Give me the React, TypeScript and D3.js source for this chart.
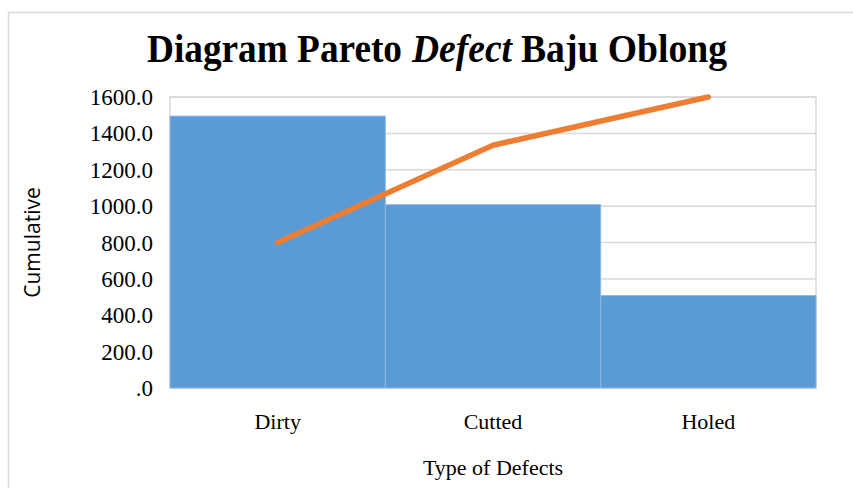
import React from 'react';
import * as d3 from 'd3';

const categories = ['Dirty', 'Cutted', 'Holed'];
const defectCounts = [1495, 1008, 508];
const cumulative = [800, 1335, 1600];
const yTicks = [0, 200, 400, 600, 800, 1000, 1200, 1400, 1600];

const W = 853;
const H = 488;
const plot = { left: 170, right: 816, top: 97, bottom: 388 };

const App = () => {
  const x = d3
    .scaleBand<string>()
    .domain(categories)
    .range([plot.left, plot.right])
    .padding(0);

  const y = d3.scaleLinear().domain([0, 1600]).range([plot.bottom, plot.top]);

  const line = d3
    .line<number>()
    .x((_, i) => (x(categories[i]) as number) + x.bandwidth() / 2)
    .y((d) => y(d));

  const serif = '"Liberation Serif", "Times New Roman", serif';

  // title pieces: [text, x, width, italic]
  const titleParts: [string, number, number, boolean][] = [
    ['Diagram Pareto', 147, 255, false],
    ['Defect', 412, 100, true],
    ['Baju Oblong', 521, 206, false],
  ];

  return (
    <svg
      width={W}
      height={H}
      style={{ position: 'absolute', left: 0, top: 0, background: '#fff' }}
    >
      {/* outer chart border */}
      <rect x={8.5} y={12.5} width={W} height={H} fill="none" stroke="#d9d9d9" strokeWidth={1.5} />

      {titleParts.map(([t, tx, tw, it]) => (
        <text
          key={t}
          x={tx}
          y={62}
          fontFamily={serif}
          fontWeight="bold"
          fontStyle={it ? 'italic' : 'normal'}
          fontSize={39}
          textLength={tw}
          lengthAdjust="spacingAndGlyphs"
          fill="#000"
        >
          {t}
        </text>
      ))}

      {/* plot border + gridlines */}
      <rect
        x={plot.left}
        y={plot.top}
        width={plot.right - plot.left}
        height={plot.bottom - plot.top}
        fill="none"
        stroke="#d9d9d9"
        strokeWidth={1.5}
      />
      {yTicks.map((t) => (
        <line
          key={t}
          x1={plot.left}
          x2={plot.right}
          y1={y(t)}
          y2={y(t)}
          stroke="#d9d9d9"
          strokeWidth={1.5}
        />
      ))}

      {/* bars */}
      {categories.map((c, i) => (
        <rect
          key={c}
          x={x(c)}
          y={y(defectCounts[i])}
          width={x.bandwidth()}
          height={plot.bottom - y(defectCounts[i])}
          fill="#5b9bd5"
          stroke="#8cb8e3"
          strokeWidth={1}
        />
      ))}

      {/* cumulative line */}
      <path
        d={line(cumulative) || ''}
        fill="none"
        stroke="#ed7d31"
        strokeWidth={5.5}
        strokeLinecap="round"
        strokeLinejoin="round"
      />

      {/* y tick labels */}
      {yTicks.map((t) => (
        <text
          key={t}
          x={153}
          y={y(t) + 8}
          textAnchor="end"
          fontFamily={serif}
          fontSize={23}
          fill="#000"
        >
          {t === 0 ? '.0' : d3.format('.1f')(t)}
        </text>
      ))}

      {/* x labels */}
      {categories.map((c) => (
        <text
          key={c}
          x={(x(c) as number) + x.bandwidth() / 2}
          y={429}
          textAnchor="middle"
          fontFamily={serif}
          fontSize={22}
          fill="#000"
        >
          {c}
        </text>
      ))}

      <text
        x={493}
        y={475}
        textAnchor="middle"
        fontFamily={serif}
        fontSize={22}
        fill="#000"
      >
        Type of Defects
      </text>

      <text
        transform={`translate(40,${(plot.top + plot.bottom) / 2}) rotate(-90)`}
        textAnchor="middle"
        fontFamily='"Open Sans", "Noto Sans", sans-serif'
        fontSize={21}
        fill="#000"
      >
        Cumulative
      </text>
    </svg>
  );
};

export default App;
